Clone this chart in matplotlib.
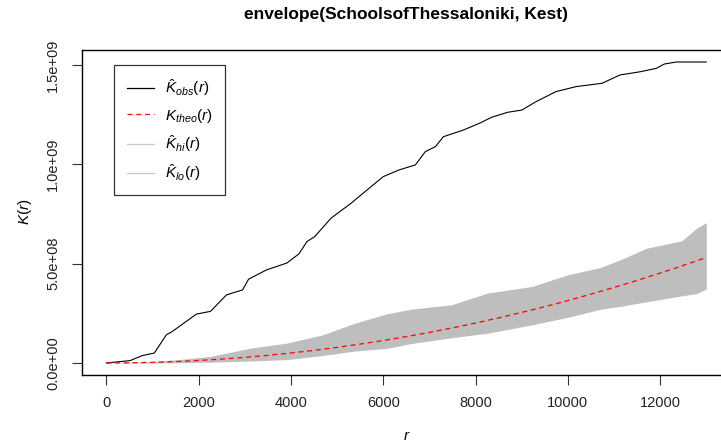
import matplotlib
matplotlib.use("Agg")
import matplotlib.pyplot as plt
from matplotlib.lines import Line2D
from matplotlib.ticker import FixedLocator

plt.rcParams['font.family'] = ['Liberation Sans', 'DejaVu Sans']
plt.rcParams['mathtext.fontset'] = 'custom'
plt.rcParams['mathtext.it'] = 'Liberation Sans:italic'
plt.rcParams['mathtext.rm'] = 'Liberation Sans'
plt.rcParams['mathtext.bf'] = 'Liberation Sans:bold'

title = "envelope(SchoolsofThessaloniki, Kest)"

# observed K
obs_r = [0, 516, 778, 1040, 1302, 1432, 1952, 2258, 2605, 2953, 3083, 3476, 3911,
         4172, 4347, 4520, 4869, 5303, 5738, 6000, 6347, 6696, 6913, 7131, 7304,
         7740, 8089, 8349, 8697, 9001, 9307, 9742, 10176, 10741, 11133, 11568,
         11917, 12091, 12351, 13000]
obs_k = [0.0, 0.012e9, 0.037e9, 0.050e9, 0.142e9, 0.159e9, 0.246e9, 0.260e9,
         0.343e9, 0.368e9, 0.422e9, 0.469e9, 0.503e9, 0.549e9, 0.611e9, 0.637e9,
         0.729e9, 0.804e9, 0.888e9, 0.938e9, 0.972e9, 0.997e9, 1.064e9, 1.089e9,
         1.139e9, 1.173e9, 1.207e9, 1.237e9, 1.262e9, 1.273e9, 1.315e9, 1.366e9,
         1.391e9, 1.408e9, 1.450e9, 1.466e9, 1.483e9, 1.505e9, 1.515e9, 1.515e9]

# theoretical K
theo_r = [0, 500, 1000, 1500, 2000, 2500, 3000, 3500, 4000, 4500, 5000, 5500, 6000,
          6500, 7000, 7500, 8000, 8500, 9000, 9500, 10000, 10500, 11000, 11500,
          12000, 12500, 13000]
theo_k = [0.0, 0.8e6, 3.1e6, 7.1e6, 12.6e6, 19.6e6, 28.3e6, 38.5e6, 50.3e6, 63.6e6,
          78.5e6, 95.0e6, 113.1e6, 132.7e6, 153.9e6, 176.7e6, 201.1e6, 227.0e6,
          254.5e6, 283.5e6, 314.2e6, 346.4e6, 380.1e6, 415.5e6, 452.4e6, 490.9e6,
          530.9e6]

# envelope
env_r = [0, 1000, 1562, 2258, 3127, 3911, 4694, 5390, 6087, 6609, 7480, 8263,
         9220, 10003, 10697, 11131, 11710, 12468, 12793, 13000]
env_hi = [0.0, 0.008e9, 0.017e9, 0.033e9, 0.075e9, 0.100e9, 0.142e9, 0.201e9,
          0.248e9, 0.271e9, 0.293e9, 0.352e9, 0.385e9, 0.444e9, 0.480e9, 0.519e9,
          0.578e9, 0.615e9, 0.679e9, 0.707e9]
env_lo = [0.0, 0.0, 0.001e9, 0.004e9, 0.010e9, 0.017e9, 0.038e9, 0.060e9,
          0.074e9, 0.098e9, 0.127e9, 0.150e9, 0.192e9, 0.230e9, 0.270e9, 0.285e9,
          0.308e9, 0.338e9, 0.350e9, 0.372e9]

xticks = [0, 2000, 4000, 6000, 8000, 10000, 12000]
yticks = [0, 5e8, 1e9, 1.5e9]
yticklabels = ["0.0e+00", "5.0e+08", "1.0e+09", "1.5e+09"]

legend_labels = [r'$\hat{K}_{obs}(r)$', r'$K_{theo}(r)$',
                 r'$\hat{K}_{hi}(r)$', r'$\hat{K}_{lo}(r)$']

fig = plt.figure(figsize=(7.21, 4.43), dpi=100)
ax = fig.add_axes([82.3/721, (443-375)/443, (730.3-82.3)/721, (375-49.5)/443])

ax.fill_between(env_r, env_lo, env_hi, color='#BEBEBE', linewidth=0, step=None)
ax.plot(obs_r, obs_k, color='black', lw=0.8, drawstyle='default')
ax.plot(theo_r, theo_k, color='red', lw=0.9, linestyle=(0, (4, 3)))

ax.set_xlim(-520, 13520)
ax.set_ylim(-0.0605e9, 1.578e9)

ax.xaxis.set_major_locator(FixedLocator(xticks))
ax.set_xticklabels([str(t) for t in xticks])
ax.yaxis.set_major_locator(FixedLocator(yticks))
ax.set_yticklabels(yticklabels, rotation=90, va='center')

ax.tick_params(axis='both', direction='out', length=7, width=0.8, labelsize=10.5,
               color='#333333', labelcolor='#222222')
ax.tick_params(axis='x', pad=8)
ax.tick_params(axis='y', pad=9)
for s in ax.spines.values():
    s.set_linewidth(1.0)
    s.set_color('black')

ax.set_xlabel(r'$r$', fontsize=11, labelpad=14)
ax.set_ylabel(r'$K(r)$', fontsize=11, labelpad=9)
ax.set_title(title, fontsize=12.5, fontweight='bold', pad=22)

handles = [Line2D([], [], color='black', lw=0.9),
           Line2D([], [], color='red', lw=0.9, linestyle=(0, (4, 3))),
           Line2D([], [], color='#C8C8C8', lw=0.9),
           Line2D([], [], color='#C8C8C8', lw=0.9)]
leg = ax.legend(handles, legend_labels, loc='upper left',
                bbox_to_anchor=(114.3/721, (443-65)/443), bbox_transform=fig.transFigure,
                fontsize=11, frameon=True, fancybox=False, framealpha=1,
                edgecolor='#333333', handlelength=1.8, handletextpad=0.7,
                labelspacing=0.55, borderpad=0.8, borderaxespad=0)
leg.get_frame().set_linewidth(0.9)

fig.savefig('out.png', dpi=100)
